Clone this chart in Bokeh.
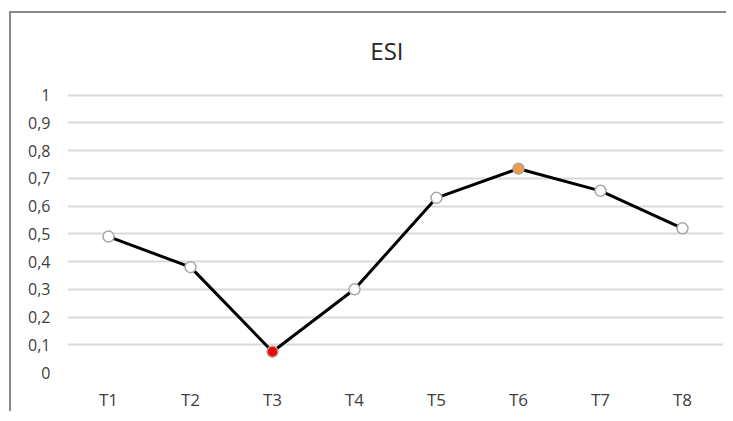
from bokeh.plotting import figure
from bokeh.models import FixedTicker, Range1d, ColumnDataSource
from bokeh.core.properties import value
from bokeh.embed import file_html
from bokeh.resources import INLINE

# ---- data ----
categories = ["T1", "T2", "T3", "T4", "T5", "T6", "T7", "T8"]
esi_values = [0.49, 0.38, 0.075, 0.30, 0.63, 0.735, 0.655, 0.52]
marker_fills = ["white", "white", "#ff0000", "white", "white", "#f39a45", "white", "white"]
y_ticks = [0, 0.1, 0.2, 0.3, 0.4, 0.5, 0.6, 0.7, 0.8, 0.9, 1]
y_tick_labels = ["0", "0,1", "0,2", "0,3", "0,4", "0,5", "0,6", "0,7", "0,8", "0,9", "1"]
chart_title = "ESI"

FONT = "Open Sans"
W, H = 721, 398
TOP, BOTTOM = 12, 39
LEFT = 56
RIGHT = W - 710
px_per_unit = 277.3
y_top = (H - TOP - BOTTOM) / px_per_unit

p = figure(x_range=categories, y_range=Range1d(0, y_top),
           width=W, height=H, output_backend="svg", toolbar_location=None,
           min_border_left=LEFT, min_border_right=RIGHT,
           min_border_top=TOP, min_border_bottom=BOTTOM)
p.styles = {"box-sizing": "content-box", "overflow": "hidden", "vertical-align": "top",
            "border-left": "2px solid #8a8a8a", "border-top": "2px solid #8a8a8a",
            "margin-left": "9px", "margin-top": "11px",
            "clip-path": "inset(0px 6px 0px 0px)"}
p.outline_line_color = None
p.background_fill_color = "white"
p.border_fill_color = "white"

p.xgrid.grid_line_color = None
p.ygrid.grid_line_color = "#d9d9d9"
p.ygrid.grid_line_width = 2

p.yaxis.ticker = FixedTicker(ticks=y_ticks)
p.yaxis.major_label_overrides = dict(zip(y_ticks, y_tick_labels))
for ax in (p.xaxis[0], p.yaxis[0]):
    ax.axis_line_color = None
    ax.major_tick_line_color = None
    ax.minor_tick_line_color = None
    ax.major_tick_out = 0
    ax.major_tick_in = 0
    ax.major_label_text_font = FONT
    ax.major_label_text_color = "#404040"
p.yaxis.major_label_text_font_size = "16px"
p.yaxis.major_label_standoff = 17
p.xaxis.major_label_text_font_size = "17px"
p.xaxis.major_label_standoff = 15

src = ColumnDataSource(dict(x=categories, y=esi_values, fill=marker_fills))
p.line("x", "y", source=src, line_color="black", line_width=3)
p.scatter("x", "y", source=src, size=11, fill_color="fill",
          line_color="#a6a6a6", line_width=1.5)

# chart title
p.text(x=[3.896], y=[(374 - 51.7) / px_per_unit], text=[chart_title],
       text_font=value(FONT), text_font_size="24px", text_color="#262626",
       text_align="center", text_baseline="middle")

open("out.html", "w").write(file_html(p, INLINE))
